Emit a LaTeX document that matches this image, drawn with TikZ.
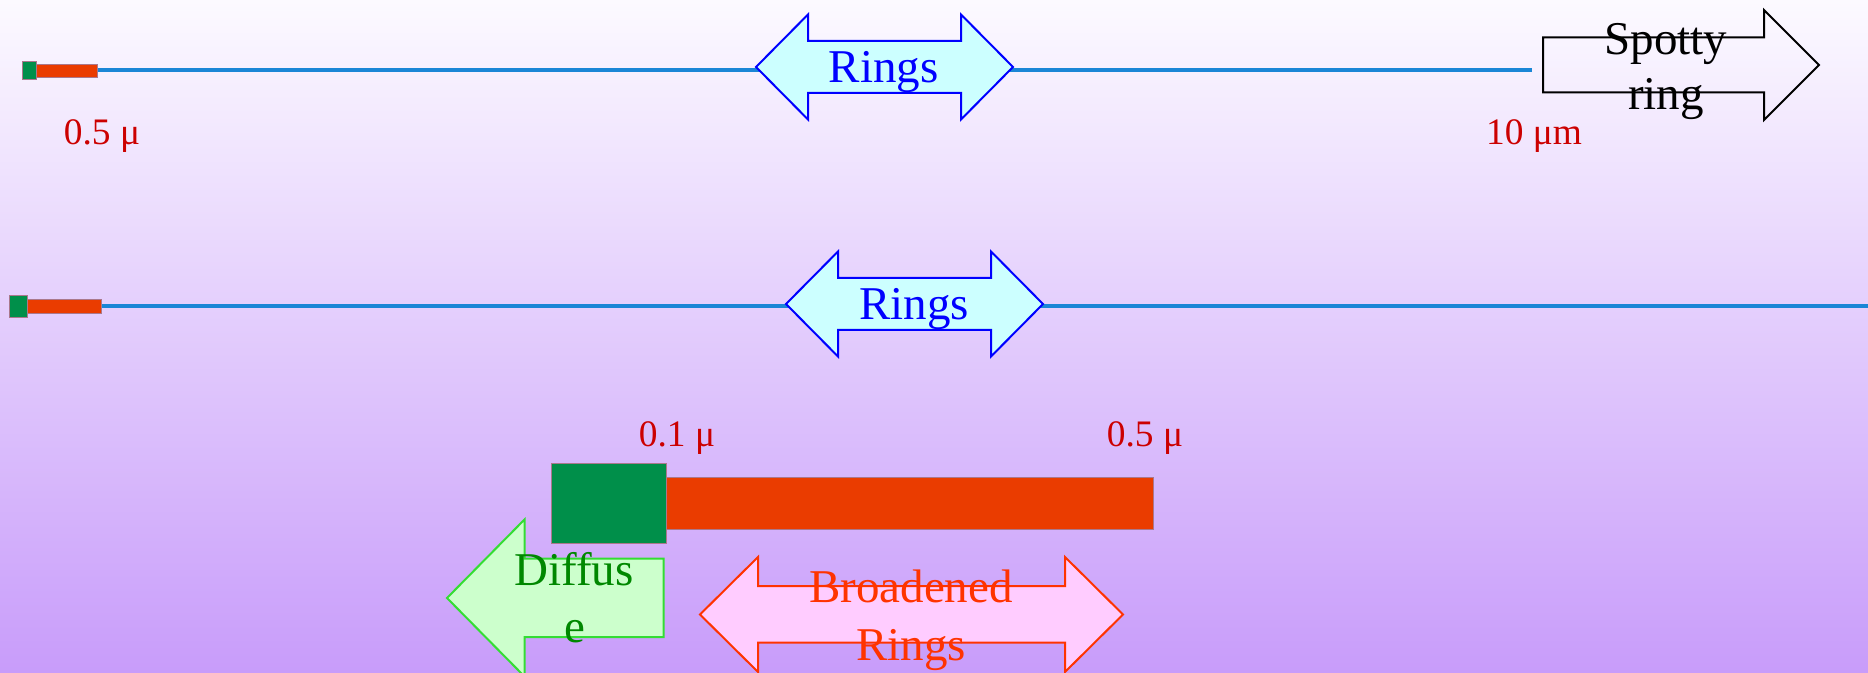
\documentclass[tikz,border=0pt]{standalone}
\usepackage{fontspec}
\setmainfont{Liberation Serif}
\definecolor{bgtop}{RGB}{252,250,255}
\definecolor{bgbot}{RGB}{200,156,250}
\definecolor{lblred}{RGB}{204,0,0}
\definecolor{sqgreen}{RGB}{0,143,74}
\definecolor{barorange}{RGB}{234,60,0}
\definecolor{lineblue}{RGB}{26,134,214}
\definecolor{ringfill}{RGB}{204,255,255}
\definecolor{ringblue}{RGB}{0,0,255}
\definecolor{difffill}{RGB}{204,255,204}
\definecolor{diffdraw}{RGB}{51,221,51}
\definecolor{difftext}{RGB}{0,136,0}
\definecolor{brdfill}{RGB}{255,204,255}
\definecolor{brdred}{RGB}{255,51,0}
\definecolor{edgegray}{RGB}{170,120,140}
\begin{document}
\begin{tikzpicture}[x=0.5pt,y=-0.5pt,
  lbl/.style={text=lblred, inner sep=0pt, anchor=base, font=\fontsize{18.7}{22}\selectfont},
  sqbox/.style={fill=sqgreen, draw=edgegray, line width=0.3pt},
  orbar/.style={fill=barorange, draw=edgegray, line width=0.3pt},
  scaleline/.style={draw=lineblue, line width=1.6pt},
  arrowshape/.style={line width=1pt, line join=miter},
  bigtxt/.style={inner sep=0pt, anchor=base, font=\fontsize{23.5}{27}\selectfont}
]
\useasboundingbox (0,0) rectangle (1868,673);
\shade[top color=bgtop, bottom color=bgbot] (0,0) rectangle (1868,673);

% ---- Row 1 ----
\coordinate (l1s) at (97,70);
\coordinate (l1e) at (1532,70);
\draw[scaleline] (l1s) -- (l1e);
\filldraw[orbar] (36,64) rectangle (97,77);
\filldraw[sqbox] (22,61) rectangle (36,79);
\node[lbl] (lblA) at (102,145) {0.5 μ};
\node[lbl] (lblB) at (1534,145) {10 μm};
\filldraw[arrowshape, fill=ringfill, draw=ringblue]
  (756,67) -- (808,14.5) -- (808,41) -- (961,41) -- (961,14.5) -- (1013,67)
  -- (961,119.5) -- (961,93) -- (808,93) -- (808,119.5) -- cycle;
\node[bigtxt, text=ringblue] (rings1) at (883.5,83) {Rings};
\draw[arrowshape, draw=black]
  (1543,37.5) -- (1764,37.5) -- (1764,10) -- (1819,65) -- (1764,120)
  -- (1764,92.5) -- (1543,92.5) -- cycle;
\node[bigtxt, text=black] (spot1) at (1666,55) {Spotty};
\node[bigtxt, text=black] (spot2) at (1666,110) {ring};

% ---- Row 2 ----
\coordinate (l2s) at (101,306);
\coordinate (l2e) at (1868,306);
\draw[scaleline] (l2s) -- (l2e);
\filldraw[orbar] (27,299) rectangle (101,313);
\filldraw[sqbox] (9,295) rectangle (27,317);
\filldraw[arrowshape, fill=ringfill, draw=ringblue]
  (786,304) -- (838,251.5) -- (838,278) -- (991,278) -- (991,251.5) -- (1043,304)
  -- (991,356.5) -- (991,330) -- (838,330) -- (838,356.5) -- cycle;
\node[bigtxt, text=ringblue] (rings2) at (914,320) {Rings};

% ---- Row 3 ----
\node[lbl] (lblC) at (677,446) {0.1 μ};
\node[lbl] (lblD) at (1145,446) {0.5 μ};
\filldraw[orbar] (666.5,477) rectangle (1153.5,529);
\filldraw[sqbox] (551,463) rectangle (666.5,543);
\filldraw[arrowshape, fill=difffill, draw=diffdraw]
  (447,598) -- (524.5,519.5) -- (524.5,558.5) -- (663.5,558.5) -- (663.5,637)
  -- (524.5,637) -- (524.5,676.5) -- cycle;
\node[bigtxt, text=difftext] (diff1) at (574,585.5) {Diffus};
\node[bigtxt, text=difftext] (diff2) at (574.5,642) {e};
\filldraw[arrowshape, fill=brdfill, draw=brdred]
  (700,614.5) -- (758,557) -- (758,586) -- (1065,586) -- (1065,557) -- (1123,614.5)
  -- (1065,672) -- (1065,642.5) -- (758,642.5) -- (758,672) -- cycle;
\node[bigtxt, text=brdred] (brd1) at (911,602) {Broadened};
\node[bigtxt, text=brdred] (brd2) at (911,660) {Rings};
\end{tikzpicture}
\end{document}
